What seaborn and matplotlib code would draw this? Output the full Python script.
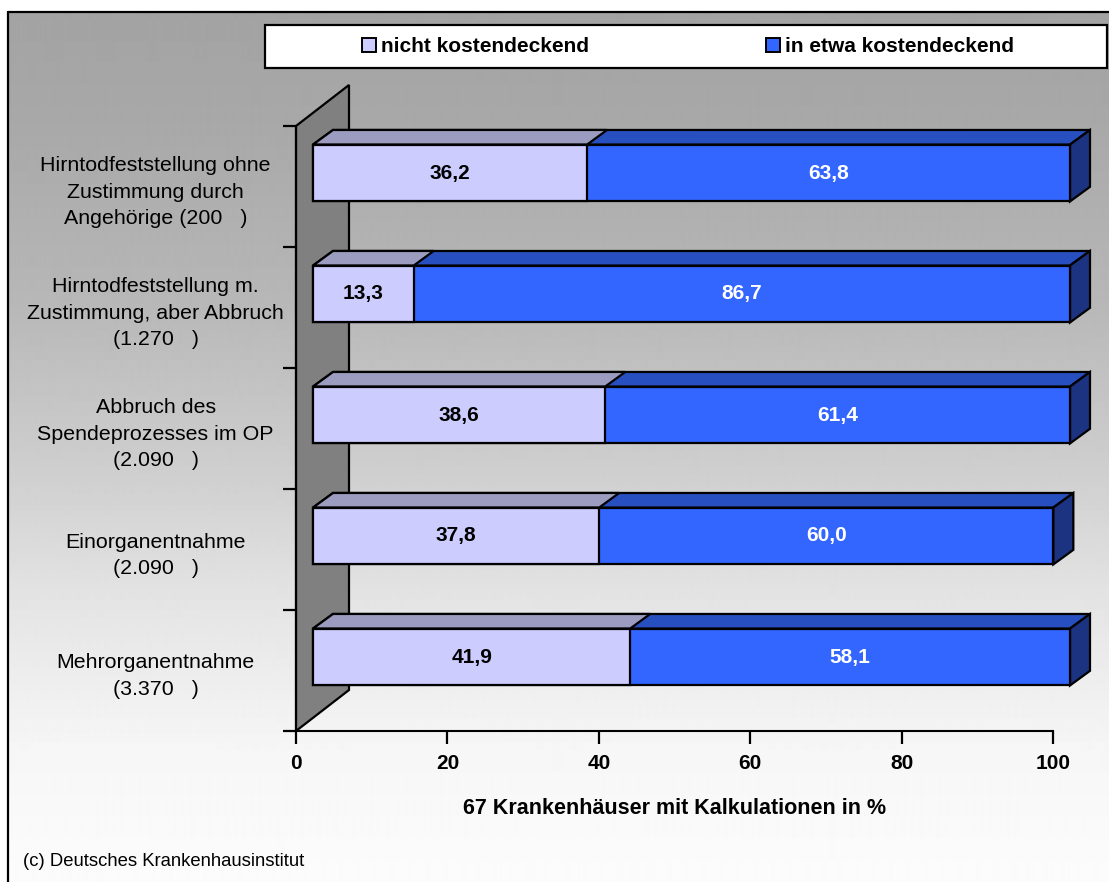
import numpy as np
import pandas as pd
import matplotlib.pyplot as plt
import seaborn as sns
from matplotlib.patches import Polygon, Patch, Rectangle

# data (top to bottom)
categories = [
    "Hirntodfeststellung ohne\nZustimmung durch\nAngehörige (200   )",
    "Hirntodfeststellung m.\nZustimmung, aber Abbruch\n(1.270   )",
    "Abbruch des\nSpendeprozesses im OP\n(2.090   )",
    "Einorganentnahme\n(2.090   )",
    "Mehrorganentnahme\n(3.370   )",
]
nicht_kostendeckend = [36.2, 13.3, 38.6, 37.8, 41.9]
etwa_kostendeckend = [63.8, 86.7, 61.4, 60.0, 58.1]
series_names = ["nicht kostendeckend", "in etwa kostendeckend"]
x_ticks = [0, 20, 40, 60, 80, 100]
x_title = "67 Krankenhäuser mit Kalkulationen in %"
source = "(c) Deutsches Krankenhausinstitut"

df = pd.DataFrame({"cat": categories, "nicht": nicht_kostendeckend, "etwa": etwa_kostendeckend})
df["total"] = df["nicht"] + df["etwa"]

LIGHT, LIGHT_TOP = "#ccccff", "#9c9cc0"
BLUE, BLUE_TOP, BLUE_SIDE = "#3366ff", "#284fc0", "#1c3382"
WALL = "#808080"
LW = 1.6

sns.set_style("white")
plt.rcParams["font.family"] = ["Liberation Sans", "DejaVu Sans"]
plt.rcParams["text.color"] = "black"
plt.rcParams["axes.labelcolor"] = "black"
plt.rcParams["xtick.color"] = "black"
plt.rcParams["ytick.color"] = "black"

W, H = 1109, 882
fig = plt.figure(figsize=(W / 100, H / 100), dpi=100)

# gray-to-white background inside the outer frame
bg = fig.add_axes([0, 0, 1, 1], zorder=-5)
bg.set_xlim(0, W)
bg.set_ylim(H, 0)
bg.axis("off")
rows = np.arange(12, H)
shade = np.interp(rows, [12, 120, 300, 480, 600, 750, 882],
                  [163, 168, 183, 208, 228, 246, 252]) / 255
bg.imshow(np.repeat(shade[:, None], 2, axis=1), cmap="gray", vmin=0, vmax=1,
          extent=[8, W, H, 12], aspect="auto", interpolation="bilinear")
bg.plot([8, 8], [H, 12], color="black", lw=1.6)
bg.plot([8, W], [12, 12], color="black", lw=1.6)

ax = fig.add_axes([296 / W, (H - 731) / H, 757 / W, 605 / H])
ax.patch.set_alpha(0)

sns.barplot(data=df, x="total", y="cat", orient="h", color=BLUE, saturation=1,
            width=0.47, edgecolor="black", linewidth=LW, errorbar=None, ax=ax)
n_blue = len(ax.patches)
sns.barplot(data=df, x="nicht", y="cat", orient="h", color=LIGHT, saturation=1,
            width=0.47, edgecolor="black", linewidth=LW, errorbar=None, ax=ax)

ax.set_xlim(0, 100)
ax.set_ylim(len(categories) - 0.5, -0.5)

# pixel -> data conversion for the 3d depth effect
p0 = ax.transData.transform((0, 0))
p1 = ax.transData.transform((1, 1))
ux, uy = p1[0] - p0[0], p1[1] - p0[1]
fx, fy = 17 / ux, 13.5 / uy      # bar front offset from the axis plane
bx, by = 20 / ux, 14.6 / uy      # bar depth
wx, wy = 53 / ux, 41 / uy        # wall depth

bars = list(ax.patches)

# side wall
y_lo, y_hi = len(categories) - 0.5, -0.5
ax.add_patch(Polygon([(0, y_lo), (0, y_hi), (wx, y_hi + wy), (wx, y_lo + wy)],
                     closed=True, fc=WALL, ec="black", lw=LW, zorder=0.5, clip_on=False))

for i, p in enumerate(bars):
    is_blue = i < n_blue
    p.set_x(p.get_x() + fx)
    p.set_y(p.get_y() + fy)
    p.set_clip_on(False)
    p.set_zorder(3)
    x0, w = p.get_x(), p.get_width()
    yt, yb = p.get_y(), p.get_y() + p.get_height()
    top = [(x0, yt), (x0 + w, yt), (x0 + w + bx, yt + by), (x0 + bx, yt + by)]
    ax.add_patch(Polygon(top, closed=True, fc=BLUE_TOP if is_blue else LIGHT_TOP,
                         ec="black", lw=LW, zorder=2.2 if is_blue else 2.4, clip_on=False))
    if is_blue:
        x1 = x0 + w
        side = [(x1, yt), (x1 + bx, yt + by), (x1 + bx, yb + by), (x1, yb)]
        ax.add_patch(Polygon(side, closed=True, fc=BLUE_SIDE, ec="black", lw=LW,
                             zorder=2.2, clip_on=False))

# value labels on the front faces
for i, row in df.iterrows():
    yc = i + fy
    ax.text(row["nicht"] / 2 + fx, yc, f"{row['nicht']:.1f}".replace(".", ","),
            ha="center", va="center", fontsize=15, fontweight="bold", color="black", zorder=5)
    ax.text(row["nicht"] + row["etwa"] / 2 + fx, yc, f"{row['etwa']:.1f}".replace(".", ","),
            ha="center", va="center", fontsize=15, fontweight="bold", color="white", zorder=5)

# axes styling
for s in ["top", "right"]:
    ax.spines[s].set_visible(False)
for s in ["left", "bottom"]:
    ax.spines[s].set_linewidth(1.5)
    ax.spines[s].set_color("black")

ax.set_yticks(np.arange(-0.5, len(categories), 1), [""] * (len(categories) + 1))
ax.set_yticks(range(len(categories)), categories, minor=True)
ax.tick_params(axis="y", which="major", left=True, length=9.4, width=1.6, direction="out")
ax.tick_params(axis="y", which="minor", left=True, length=0, pad=101, labelsize=15.4)
for t in ax.get_yticklabels(minor=True):
    t.set_ha("center")
    t.set_multialignment("center")
    t.set_linespacing(1.5)

ax.set_xticks(x_ticks, [str(v) for v in x_ticks])
ax.tick_params(axis="x", bottom=True, length=9.4, width=1.6, direction="out", pad=7, labelsize=15)
for t in ax.get_xticklabels():
    t.set_fontweight("bold")
ax.set_xlabel(x_title, fontsize=15.5, fontweight="bold", labelpad=18)
ax.set_ylabel("")

# legend in a wide white box
fig.add_artist(Rectangle((265 / W, 1 - 68 / H), 842 / W, 43 / H, transform=fig.transFigure,
                         fc="white", ec="black", lw=1.6, zorder=1))
handles = [Patch(fc=LIGHT, ec="black", lw=1.4), Patch(fc=BLUE, ec="black", lw=1.4)]
leg = fig.legend(handles, series_names, loc="center", bbox_to_anchor=(688 / W, 1 - 46.5 / H),
                 ncol=2, frameon=False, prop={"size": 15, "weight": "bold"},
                 handlelength=0.65, handleheight=0.65, handletextpad=0.25, columnspacing=8.5)
leg.set_zorder(2)

fig.text(23 / W, 1 - 862 / H, source, ha="left", va="center", fontsize=13.3)

fig.savefig("out.png", dpi=100)
